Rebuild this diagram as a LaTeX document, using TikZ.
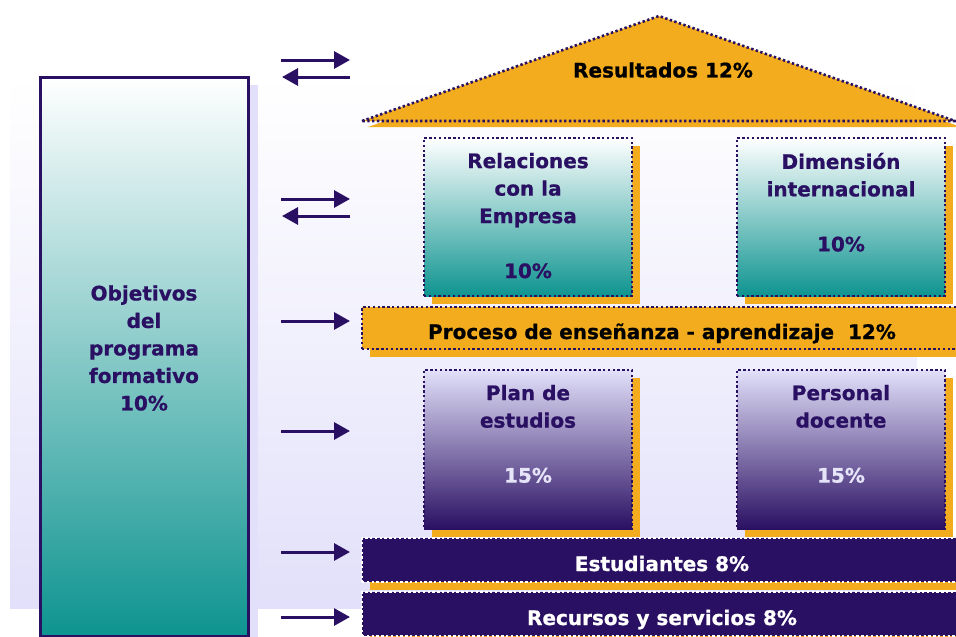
\documentclass[tikz,border=0pt]{standalone}
\usepackage{fontspec}
\setmainfont{DejaVu Sans}[BoldFeatures={FakeBold=0.8}]
\usetikzlibrary{positioning,shadows,arrows.meta}
\definecolor{deeppurple}{HTML}{2A1062}
\definecolor{gold}{HTML}{F2AC1E}
\definecolor{sea}{HTML}{0E9490}
\definecolor{lilac}{HTML}{E2E0FA}
\definecolor{palelilac}{HTML}{E6E4F8}
\tikzset{panel/.style = {top color=white, bottom color=lilac}}
\tikzset{dots/.style = {draw=deeppurple, line width=2.6pt, dash pattern=on 2.4pt off 2.4pt}}
\tikzset{goldshadow/.style = {drop shadow={shadow xshift=8pt, shadow yshift=-8pt, fill=gold, opacity=1}}}
\tikzset{objbox/.style = {draw=deeppurple, line width=3pt, top color=white, bottom color=sea, minimum width=208pt, minimum height=559pt, drop shadow={shadow xshift=10pt, shadow yshift=-8pt, fill=lilac, opacity=1}}}
\tikzset{tealbox/.style = {dots, goldshadow, top color=white, bottom color=sea, minimum width=208pt, minimum height=158pt}}
\tikzset{lilacbox/.style = {dots, goldshadow, top color=lilac, bottom color=deeppurple, minimum width=208pt, minimum height=159pt}}
\tikzset{goldband/.style = {dots, goldshadow, fill=gold, minimum width=600pt, minimum height=42pt, text height=22pt, text depth=0pt, font=\fontsize{20}{24}\selectfont\bfseries}}
\tikzset{darkband/.style = {draw=white, line width=2.6pt, dash pattern=on 2.4pt off 2.4pt, goldshadow, fill=deeppurple, text=white, minimum width=600pt, minimum height=44pt, text height=22pt, text depth=0pt, font=\fontsize{20}{24}\selectfont\bfseries}}
\tikzset{boxtext/.style = {align=center, inner sep=0pt, text=deeppurple, font=\fontsize{20}{27.5}\selectfont\bfseries}}
\tikzset{flow/.style = {draw=deeppurple, line width=3pt, -{Triangle[length=16pt,width=17pt]}}}

\begin{document}
\begin{tikzpicture}[x=1pt, y=-1pt]
  \useasboundingbox (0,0) rectangle (956,637);
  \clip (0,0) rectangle (956,637);
  \fill[panel] (10,77) rectangle (917,608);

  % objetivos
  \node[objbox] (obj) at (144,356.5) {};
  \node[boxtext] (objtxt) at (144,348) {Objetivos\\del\\programa\\formativo\\10\%};

  % tejado
  \fill[gold] (368,127) -- (665,22) -- (961,127) -- cycle;
  \path[dots, fill=gold] (362,121) -- (659,16) -- (955,121) -- cycle;
  \node[font=\fontsize{20}{24}\selectfont\bfseries] (res) at (663,70) {Resultados 12\%};

  % criterios
  \node[tealbox] (rel) at (528,217) {};
  \node[tealbox] (dim) at (841,217) {};
  \node[boxtext, below=16pt of rel.north] (reltxt) {Relaciones\\con la\\Empresa\\[27.5pt]10\%};
  \node[boxtext, below=16pt of dim.north] (dimtxt) {Dimensión\\internacional\\[27.5pt]10\%};

  \node[goldband] (proc) at (662,328) {Proceso de enseñanza - aprendizaje\ \ 12\%};

  \node[lilacbox] (plan) at (528,449.5) {};
  \node[lilacbox] (pers) at (841,449.5) {};
  \node[boxtext, below=16pt of plan.north] (plantxt) {Plan de\\estudios\\[27.5pt]{\color{palelilac}15\%}};
  \node[boxtext, below=16pt of pers.north] (perstxt) {Personal\\docente\\[27.5pt]{\color{palelilac}15\%}};

  \node[darkband] (est) at (662,560) {Estudiantes 8\%};
  \node[darkband] (rec) at (662,614) {Recursos y servicios 8\%};

  % flechas
  \coordinate (a1w) at (281,60);  \coordinate (a1e) at (350,60);
  \coordinate (a2w) at (282,77);  \coordinate (a2e) at (350,77);
  \coordinate (a3w) at (281,199); \coordinate (a3e) at (350,199);
  \coordinate (a4w) at (282,216); \coordinate (a4e) at (350,216);
  \coordinate (a5w) at (281,321); \coordinate (a5e) at (350,321);
  \coordinate (a6w) at (281,431); \coordinate (a6e) at (350,431);
  \coordinate (a7w) at (281,552); \coordinate (a7e) at (350,552);
  \coordinate (a8w) at (281,617); \coordinate (a8e) at (350,617);
  \draw[flow] (a1w) -- (a1e);
  \draw[flow] (a2e) -- (a2w);
  \draw[flow] (a3w) -- (a3e);
  \draw[flow] (a4e) -- (a4w);
  \draw[flow] (a5w) -- (a5e);
  \draw[flow] (a6w) -- (a6e);
  \draw[flow] (a7w) -- (a7e);
  \draw[flow] (a8w) -- (a8e);
\end{tikzpicture}
\end{document}
